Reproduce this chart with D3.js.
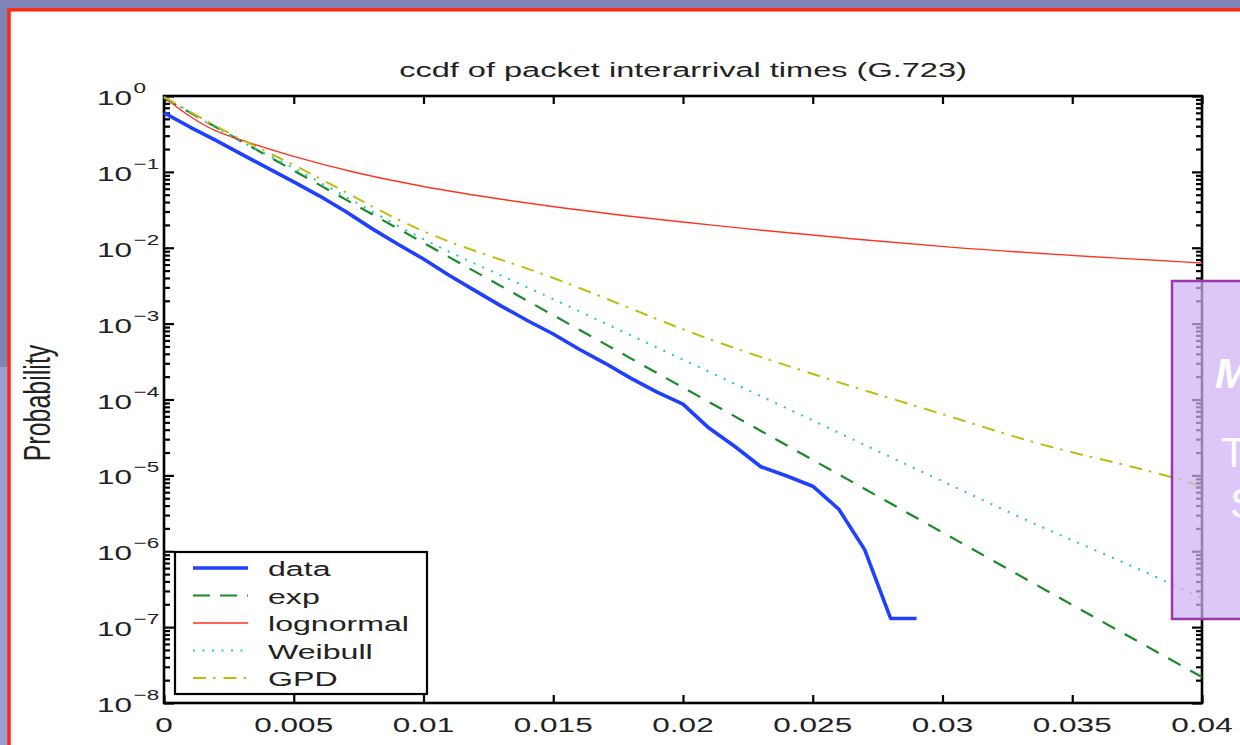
<!DOCTYPE html>
<html>
<head>
<meta charset="utf-8">
<script src="https://cdn.jsdelivr.net/npm/d3@7"></script>
<style>
	body { margin: 0; background: #7e83b8; }
	svg { display: block; }
	text { font-family: Arial, "Liberation Sans", Helvetica, sans-serif; }
</style>
</head>
<body>
<div id="chart"></div>
<script>
// x ticks
var xTicks = [0, 0.005, 0.01, 0.015, 0.02, 0.025, 0.03, 0.035, 0.04];
var xTickLabels = ['0', '0.005', '0.01', '0.015', '0.02', '0.025', '0.03', '0.035', '0.04'];
// y ticks (decades)
var yExponents = [0, -1, -2, -3, -4, -5, -6, -7, -8];

// measured ccdf
var dataX = [0, 0.001, 0.002, 0.003, 0.004, 0.005, 0.006, 0.007, 0.008, 0.009,
	0.010, 0.011, 0.012, 0.013, 0.014, 0.015, 0.016, 0.017, 0.018, 0.019,
	0.020, 0.021, 0.022, 0.023, 0.024, 0.025, 0.026, 0.027, 0.028, 0.029];
var dataP = [0.60, 0.39, 0.26, 0.17, 0.112, 0.074, 0.048, 0.030, 0.018, 0.0112,
	0.0071, 0.0043, 0.0027, 0.0017, 0.0011, 7.3e-4, 4.6e-4, 3.0e-4, 1.9e-4, 1.25e-4,
	8.7e-5, 4.2e-5, 2.4e-5, 1.3e-5, 9.8e-6, 7.2e-6, 3.6e-6, 1.05e-6, 1.3e-7, 1.3e-7];

// fitted models
var expX = [0, 0.005, 0.01, 0.015, 0.02, 0.025, 0.03, 0.035, 0.04];
var expP = [0.94, 0.104, 0.0116, 1.29e-3, 1.44e-4, 1.6e-5, 1.77e-6, 1.96e-7, 2.2e-8];

var lognX = [0, 0.00081, 0.002, 0.0032, 0.005, 0.0073, 0.0099, 0.0157, 0.0214, 0.0303, 0.04];
var lognP = [0.97, 0.597, 0.346, 0.248, 0.160, 0.0996, 0.0651, 0.0324, 0.0194, 0.0102, 0.0063];

var weibX = [0, 0.0025, 0.005, 0.0099, 0.015, 0.0214, 0.0285, 0.033, 0.0389, 0.04];
var weibP = [0.97, 0.306, 0.112, 0.0135, 2.1e-3, 2.0e-4, 1.45e-5, 2.8e-6, 3.6e-7, 2.4e-7];

var gpdX = [0, 0.0025, 0.005, 0.0099, 0.015, 0.0214, 0.025, 0.03, 0.0335, 0.0388, 0.04];
var gpdP = [0.97, 0.325, 0.123, 0.0171, 4.0e-3, 5.6e-4, 2.17e-4, 6.4e-5, 2.75e-5, 9.5e-6, 7.2e-6];

var seriesNames = ['data', 'exp', 'lognormal', 'Weibull', 'GPD'];

var series = [
	{ name: 'data', xs: dataX, ps: dataP, color: '#2040ff', width: 3.6, dash: null, curve: d3.curveLinear },
	{ name: 'exp', xs: expX, ps: expP, color: '#1a8a2a', width: 2.2, dash: '14,11', curve: d3.curveLinear },
	{ name: 'lognormal', xs: lognX, ps: lognP, color: '#ff3322', width: 1.4, dash: null, curve: d3.curveMonotoneX },
	{ name: 'Weibull', xs: weibX, ps: weibP, color: '#22c4cc', width: 2, dash: '2,7.5', curve: d3.curveMonotoneX },
	{ name: 'GPD', xs: gpdX, ps: gpdP, color: '#bdbd10', width: 2, dash: '13,7,2.5,8', curve: d3.curveMonotoneX }
];

var W = 1240, H = 745;
var stretch = 1.5; // the figure was pasted stretched sideways

var svg = d3
	.select('#chart')
	.append('svg')
	.attr('width', W)
	.attr('height', H);

// SLIDE FRAME
svg.append('rect').attr('x', 0).attr('y', 0).attr('width', W).attr('height', H).attr('fill', '#7e83b8');
svg.append('rect').attr('x', 0).attr('y', 367).attr('width', 9).attr('height', H).attr('fill', '#98a0d8');
svg.append('rect')
	.attr('x', 9).attr('y', 9.8)
	.attr('width', W + 20).attr('height', H + 20)
	.attr('fill', '#ffffff')
	.attr('stroke', '#ff2a14')
	.attr('stroke-width', 3.5);

// SCALES
var x = d3.scaleLinear().domain([0, 0.04]).range([164, 1202]);
var y = d3.scaleLog().domain([1e-8, 1]).range([703, 96]);

var majorY = yExponents.map(function(e){ return Math.pow(10, e); });
var minorY = [];
yExponents.slice(1).forEach(function(e){
	for (var m = 2; m <= 9; m++) minorY.push(m * Math.pow(10, e));
});

// AXES (inward ticks, box on)
function styleAxis(g, w){
	g.select('.domain').remove();
	g.selectAll('.tick line').attr('stroke', '#000').attr('stroke-width', w);
	g.selectAll('.tick text').remove();
}

svg.append('g').attr('transform', 'translate(0,703)')
	.call(d3.axisBottom(x).tickValues(xTicks).tickSize(-8).tickFormat(''))
	.call(styleAxis, 2.2);
svg.append('g').attr('transform', 'translate(0,96)')
	.call(d3.axisTop(x).tickValues(xTicks).tickSize(-8).tickFormat(''))
	.call(styleAxis, 2.2);
svg.append('g').attr('transform', 'translate(164,0)')
	.call(d3.axisLeft(y).tickValues(majorY).tickSize(-10).tickFormat(''))
	.call(styleAxis, 2.2);
svg.append('g').attr('transform', 'translate(164,0)')
	.call(d3.axisLeft(y).tickValues(minorY).tickSize(-6).tickFormat(''))
	.call(styleAxis, 2.2);
svg.append('g').attr('transform', 'translate(1202,0)')
	.call(d3.axisRight(y).tickValues(majorY).tickSize(-10).tickFormat(''))
	.call(styleAxis, 2.2);
svg.append('g').attr('transform', 'translate(1202,0)')
	.call(d3.axisRight(y).tickValues(minorY).tickSize(-6).tickFormat(''))
	.call(styleAxis, 2.2);

svg.append('rect')
	.attr('x', x(0)).attr('y', y(1))
	.attr('width', x(0.04) - x(0)).attr('height', y(1e-8) - y(1))
	.attr('fill', 'none')
	.attr('stroke', '#000')
	.attr('stroke-width', 2.6);

// TICK LABELS
svg.append('g')
	.selectAll('g')
	.data(xTicks)
	.enter()
	.append('g')
	.attr('transform', function(d){ return 'translate(' + x(d) + ',732) scale(' + stretch + ',1)'; })
	.append('text')
	.attr('text-anchor', 'middle')
	.attr('font-size', 21)
	.attr('fill', '#222')
	.text(function(d, i){ return xTickLabels[i]; });

var yl = svg.append('g')
	.selectAll('g')
	.data(yExponents)
	.enter()
	.append('g')
	.attr('transform', function(d){ return 'translate(97,' + (y(Math.pow(10, d)) + 9) + ') scale(' + stretch + ',1)'; })
	.append('text')
	.attr('font-size', 21)
	.attr('fill', '#222');
yl.append('tspan').text('10');
yl.append('tspan')
	.attr('dy', -12)
	.attr('dx', 1)
	.attr('font-size', 15)
	.text(function(d){ return d == 0 ? '0' : '\u2212' + (-d); });

// TITLE + Y LABEL
svg.append('g')
	.attr('transform', 'translate(683,77) scale(1.55,1)')
	.append('text')
	.attr('text-anchor', 'middle')
	.attr('font-size', 21)
	.attr('fill', '#222')
	.text('ccdf of packet interarrival times (G.723)');

svg.append('g')
	.attr('transform', 'translate(50,403) scale(' + stretch + ',1) rotate(-90)')
	.append('text')
	.attr('text-anchor', 'middle')
	.attr('font-size', 25)
	.attr('fill', '#222')
	.text('Probability');

// CURVES
svg.append('g')
	.selectAll('path')
	.data(series)
	.enter()
	.append('path')
	.attr('fill', 'none')
	.attr('stroke', function(d){ return d.color; })
	.attr('stroke-width', function(d){ return d.width; })
	.attr('stroke-dasharray', function(d){ return d.dash; })
	.attr('stroke-linejoin', 'round')
	.attr('d', function(d){
		return d3.line()
			.curve(d.curve)
			.x(function(v){ return x(v); })
			.y(function(v, i){ return y(d.ps[i]); })(d.xs);
	});

// LEGEND
var legend = svg.append('g');
legend.append('rect')
	.attr('x', 175).attr('y', 552)
	.attr('width', 252).attr('height', 142)
	.attr('fill', '#fff')
	.attr('stroke', '#000')
	.attr('stroke-width', 2.2);

var rows = legend.selectAll('.row')
	.data(series)
	.enter()
	.append('g')
	.attr('class', 'row')
	.attr('transform', function(d, i){ return 'translate(0,' + (568 + i * 27.5) + ')'; });
rows.append('line')
	.attr('x1', 193).attr('x2', 248)
	.attr('stroke', function(d){ return d.color; })
	.attr('stroke-width', function(d){ return d.width; })
	.attr('stroke-dasharray', function(d){ return d.name == 'exp' ? '17,10' : d.dash; });
rows.append('g')
	.attr('transform', 'translate(268,8) scale(1.53,1)')
	.append('text')
	.attr('font-size', 21)
	.attr('fill', '#222')
	.text(function(d, i){ return seriesNames[i]; });

// OVERLAY BOX FROM THE SLIDE
svg.append('rect')
	.attr('x', 1172).attr('y', 281)
	.attr('width', 120).attr('height', 338)
	.attr('fill', 'rgb(208,176,245)')
	.attr('fill-opacity', 0.72)
	.attr('stroke', '#9b3aa6')
	.attr('stroke-width', 2.5);

svg.append('text').attr('x', 1215).attr('y', 388)
	.attr('font-size', 42).attr('font-weight', 'bold').attr('font-style', 'italic')
	.attr('fill', '#fff').text('M');
svg.append('text').attr('x', 1221).attr('y', 467)
	.attr('font-size', 42).attr('fill', '#fff').text('T');
svg.append('text').attr('x', 1230).attr('y', 518)
	.attr('font-size', 42).attr('fill', '#fff').text('S');
</script>
</body>
</html>
